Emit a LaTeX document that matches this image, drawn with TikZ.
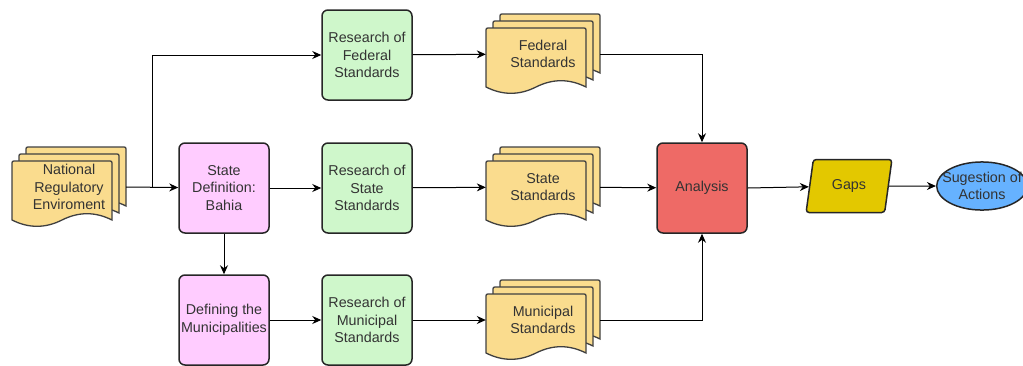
\documentclass[tikz,border=0pt]{standalone}
\usepackage{fontspec}
\setmainfont{Liberation Sans}
\usetikzlibrary{arrows.meta,shapes.geometric}
\definecolor{docfill}{HTML}{FADC8E}
\definecolor{resfill}{HTML}{CFF7CB}
\definecolor{deffill}{HTML}{FFCCFF}
\definecolor{anafill}{HTML}{EE6A66}
\definecolor{gapfill}{HTML}{E3C800}
\definecolor{sugfill}{HTML}{66B2FF}

\begin{document}
\begin{tikzpicture} [x=1pt, y=-1pt, font=\fontsize{14.3}{17.5}\selectfont,
  box/.style = {draw=black!85, line width=1.5pt, rounded corners=6pt, minimum width=90pt, minimum height=90pt, inner sep=0pt, align=center, text=black!80},
  page/.style = {draw=black!75, line width=1.3pt, fill=docfill},
  docnode/.style = {minimum width=114pt, minimum height=80pt, inner sep=0pt, align=center, text=black!80},
  arr/.style = {-{Stealth[length=9pt,width=8pt]}, line width=1pt}]
\useasboundingbox (0,0) rectangle (1023,365);
\newcommand{\docpage}[2]{%
  \begin{scope}[shift={(#1,#2)}]
    \draw[page] (0,59) -- (0,4) .. controls (0,0) .. (4,0) -- (96,0) .. controls (100,0) .. (100,4) -- (100,59)
      .. controls (83.3,50.6) and (66.7,50.6) .. (50,59)
      .. controls (33.3,67.4) and (16.7,67.4) .. (0,59) -- cycle;
  \end{scope}}
\newcommand{\multidoc}[4]{%
  \docpage{#2-43}{#3-40}
  \docpage{#2-50}{#3-33}
  \docpage{#2-57}{#3-26}
  \node[docnode] (#1) at (#2,#3) {#4};}
% documents
\multidoc{national}{69}{187}{National\\Regulatory\\Enviroment}
\multidoc{federal}{543}{54}{Federal\\Standards}
\multidoc{state}{543}{187}{State\\Standards}
\multidoc{municipal}{543}{320}{Municipal\\Standards}
% process boxes
\node[box, fill=deffill] (statedef) at (224,188) {State\\Definition:\\Bahia};
\node[box, fill=deffill] (defmun) at (224,320) {Defining the\\Municipalities};
\node[box, fill=resfill] (fedres) at (367,55) {Research of\\Federal\\Standards};
\node[box, fill=resfill] (stateres) at (367,188) {Research of\\State\\Standards};
\node[box, fill=resfill] (munres) at (367,320) {Research of\\Municipal\\Standards};
\node[box, fill=anafill] (analysis) at (702,188) {Analysis};
\node[draw=black!85, line width=1.5pt, fill=gapfill, trapezium, trapezium left angle=78, trapezium right angle=102,
  trapezium stretches=true, minimum width=86pt, minimum height=53pt, rounded corners=3pt, text=black!80] (gaps) at (849,186) {Gaps};
\node[draw=black!85, line width=1.5pt, fill=sugfill, ellipse, inner xsep=-7.7pt, inner ysep=3pt, align=center, text=black!80] (sugest) at (982,186) {Sugestion of\\Actions};
% connectors
\coordinate (split) at (152,187);
\draw[arr] (national.east) -- (statedef);
\draw[arr] (split) |- (fedres);
\draw[arr] (statedef) -- (stateres);
\draw[arr] (statedef) -- (defmun);
\draw[arr] (fedres) -- (federal);
\draw[arr] (stateres) -- (state);
\draw[arr] (defmun) -- (munres);
\draw[arr] (munres) -- (municipal);
\draw[arr] (federal.east) -| (analysis);
\draw[arr] (state) -- (analysis);
\draw[arr] (municipal.east) -| (analysis);
\draw[arr] (analysis.east) -- (gaps);
\draw[arr] (gaps) -- (sugest);
\end{tikzpicture}
\end{document}
